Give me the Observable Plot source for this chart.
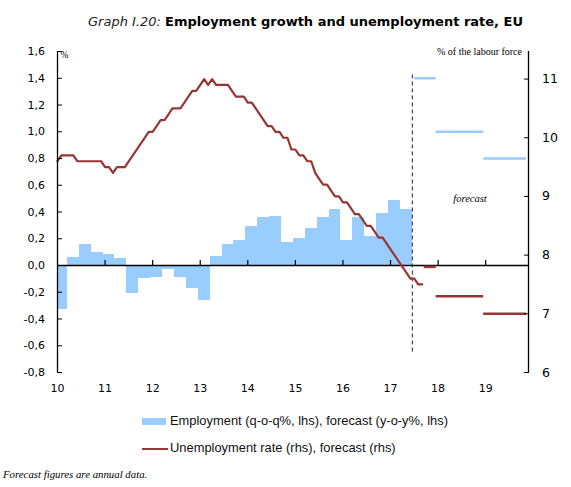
<!DOCTYPE html>
<html>
<head>
<meta charset="utf-8">
<script src="https://cdn.jsdelivr.net/npm/d3@7"></script>
<script src="https://cdn.jsdelivr.net/npm/@observablehq/plot@0.6"></script>
<style>
  body { margin: 0; background: #fff; }
  #wrap { position: relative; width: 571px; height: 487px; overflow: hidden; font-family: "DejaVu Sans", sans-serif; color: #000; }
  #title { position: absolute; left: 88px; top: 14px; font-size: 13px; line-height: 16px; white-space: nowrap; }
  #title .lead { font-style: italic; font-weight: 300; color: #222; }
  #title .main { font-weight: bold; }
  #chart { position: absolute; left: 0; top: 36px; }
  .leg { position: absolute; left: 142px; height: 14px; white-space: nowrap; font-family: "Liberation Sans", sans-serif; font-size: 12.9px; line-height: 14px; color: #111; }
  .leg .sw { display: inline-block; vertical-align: middle; margin-right: 4px; }
  #caption { position: absolute; left: 3px; top: 468px; font-family: "Liberation Serif", serif; font-style: italic; font-size: 10.8px; white-space: nowrap; color: #000; }
</style>
</head>
<body>
<div id="wrap">
  <div id="title"><span class="lead">Graph I.20: </span><span class="main">Employment growth and unemployment rate, EU</span></div>
  <div id="chart"></div>
  <div class="leg" style="top:414px;"><span class="sw" style="width:24px;height:7px;background:#99ccff;"></span><span id="leg1"></span></div>
  <div class="leg" style="top:441px;"><span class="sw" style="width:26px;height:2px;background:#963634;margin-right:2px;"></span><span id="leg2"></span></div>
  <div id="caption"></div>
</div>
<script>
// ---------- data ----------
// Employment, q-o-q % (lhs), quarterly from 2010Q1 to 2017Q2
const empQuarterly = [
  -0.33, 0.06, 0.16, 0.10,
  0.08, 0.05, -0.21, -0.10,
  -0.09, -0.03, -0.09, -0.17,
  -0.26, 0.07, 0.16, 0.19,
  0.29, 0.36, 0.37, 0.17,
  0.20, 0.28, 0.36, 0.42,
  0.19, 0.36, 0.22, 0.39,
  0.485, 0.42
];
// Unemployment rate, % of labour force (rhs), monthly from Jan 2010
const unempMonthly = [
  9.6, 9.7, 9.7, 9.7, 9.7, 9.6, 9.6, 9.6, 9.6, 9.6, 9.6, 9.6,
  9.5, 9.5, 9.4, 9.5, 9.5, 9.5, 9.6, 9.7, 9.8, 9.9, 10.0, 10.1,
  10.1, 10.2, 10.3, 10.3, 10.4, 10.5, 10.5, 10.5, 10.6, 10.7, 10.8, 10.8,
  10.9, 11.0, 10.9, 11.0, 10.9, 10.9, 10.9, 10.9, 10.8, 10.7, 10.7, 10.7,
  10.6, 10.6, 10.5, 10.4, 10.3, 10.2, 10.2, 10.1, 10.1, 10.0, 10.0, 9.8,
  9.8, 9.7, 9.7, 9.6, 9.6, 9.4, 9.3, 9.2, 9.2, 9.1, 9.0, 9.0,
  8.9, 8.9, 8.8, 8.7, 8.7, 8.6, 8.5, 8.5, 8.4, 8.3, 8.3, 8.2,
  8.1, 8.0, 7.9, 7.8, 7.7, 7.6, 7.6, 7.5, 7.5
];
// Annual forecasts
const empFcStart = [2017.55, 2018, 2019];
const empFcEnd = [2018, 2019, 2019.9];
const empForecast = [1.4, 1.0, 0.8];
const unFcStart = [2017.75, 2018, 2019];
const unFcEnd = [2018, 2019, 2019.9];
const unempForecast = [7.8, 7.3, 7.0];
// forecast divider
const forecastStart = 2017.5;
const dividerRange = [6.35, 11.1]; // rhs units
const forecastLabel = { text: "forecast", x: 2018.67, y: 0.5 };
// axes
const xTicks = [2010, 2011, 2012, 2013, 2014, 2015, 2016, 2017, 2018, 2019];
const xDomain = [2010, 2019.9];
const leftTicks = [-0.8, -0.6, -0.4, -0.2, 0, 0.2, 0.4, 0.6, 0.8, 1.0, 1.2, 1.4, 1.6];
const leftDomain = [-0.8, 1.6];
const rightTicks = [6, 7, 8, 9, 10, 11];
const rightDomain = [6, 11.47];
const leftUnit = "%";
const rightUnit = "% of the labour force";
const legendLabels = ["Employment (q-o-q%, lhs), forecast (y-o-y%, lhs)", "Unemployment rate (rhs), forecast (rhs)"];
const captionText = "Forecast figures are annual data.";

// ---------- build ----------
const BLUE = "#99ccff", RED = "#963634";
const W = 571, H = 364, MT = 15, MB = 28, ML = 57, MR = 43;
const toLeft = v => leftDomain[0] + (v - rightDomain[0]) * (leftDomain[1] - leftDomain[0]) / (rightDomain[1] - rightDomain[0]);
const fromLeft = y => rightDomain[0] + (y - leftDomain[0]) * (rightDomain[1] - rightDomain[0]) / (leftDomain[1] - leftDomain[0]);
const fmtL = d => d3.format(".1f")(d).replace("\u2212", "-").replace(".", ",");

const bars = empQuarterly.map((v, i) => ({ x1: 2010 + i / 4, x2: 2010 + (i + 1) / 4, v }));
const unemp = unempMonthly.map((v, i) => ({ x: 2010 + i / 12, v }));
const empFc = empForecast.map((v, i) => ({ x1: empFcStart[i], x2: empFcEnd[i], v }));
const unFc = unempForecast.map((v, i) => ({ x1: unFcStart[i], x2: unFcEnd[i], v }));

const innerH = H - MT - MB;
const pxToY = px => px * (leftDomain[1] - leftDomain[0]) / innerH;

const chart = Plot.plot({
  width: W, height: H,
  marginTop: MT, marginBottom: MB, marginLeft: ML, marginRight: MR,
  x: { domain: xDomain },
  y: { domain: leftDomain },
  style: { fontFamily: "DejaVu Sans, sans-serif", fontSize: "11px", color: "#000", background: "#fff", overflow: "visible" },
  marks: [
    Plot.rect(bars, { x1: "x1", x2: "x2", y1: 0, y2: "v", fill: BLUE, dx: -2, clip: true, shapeRendering: "crispEdges" }),
    Plot.ruleY(empFc, { x1: "x1", x2: "x2", y: "v", stroke: BLUE, strokeWidth: 2.5, dx: -2 }),
    Plot.ruleY([0], { stroke: "#000", strokeWidth: 1.3 }),
    Plot.ruleX(xTicks.slice(1), { x: d => d, y1: 0, y2: pxToY(5), stroke: "#000", strokeWidth: 1.2 }),
    Plot.ruleX([forecastStart], { y1: toLeft(dividerRange[0]), y2: toLeft(dividerRange[1]), stroke: "#222", strokeDasharray: "4,3", strokeWidth: 1, dx: -2 }),
    Plot.line(unemp, { x: "x", y: d => toLeft(d.v), stroke: RED, strokeWidth: 2.2 }),
    Plot.ruleY(unFc, { x1: "x1", x2: "x2", y: d => toLeft(d.v), stroke: RED, strokeWidth: 2.5, dx: -2 }),
    Plot.ruleX([xDomain[0]], { stroke: "#000", strokeWidth: 1.3 }),
    Plot.ruleX([xDomain[1]], { stroke: "#000", strokeWidth: 1.3 }),
    Plot.axisY(leftTicks, { anchor: "left", tickSize: -5, tickPadding: 17.5, tickFormat: fmtL, fontSize: 11 }),
    Plot.axisY(rightTicks.map(toLeft), { anchor: "right", tickSize: -5, tickPadding: 18.5, tickFormat: d => String(Math.round(fromLeft(d))), fontSize: 12.5 }),
    Plot.axisX(xTicks, { anchor: "bottom", tickSize: 0, tickPadding: 12, tickFormat: d => String(d % 100), fontSize: 11 }),
    Plot.text([leftUnit], { frameAnchor: "top-left", text: d => d, textAnchor: "start", dx: 3, dy: 0, fontFamily: "Liberation Serif, serif", fontSize: 9.5 }),
    Plot.text([rightUnit], { frameAnchor: "top-right", text: d => d, textAnchor: "end", dx: -6.5, dy: -3.5, fontFamily: "Liberation Serif, serif", fontSize: 10 }),
    Plot.text([forecastLabel], { x: "x", y: "y", text: "text", fontFamily: "Liberation Serif, serif", fontStyle: "italic", fontSize: 10.5 })
  ]
});
document.getElementById("chart").appendChild(chart);
document.getElementById("leg1").textContent = legendLabels[0];
document.getElementById("leg2").textContent = legendLabels[1];
document.getElementById("caption").textContent = captionText;
</script>
</body>
</html>
